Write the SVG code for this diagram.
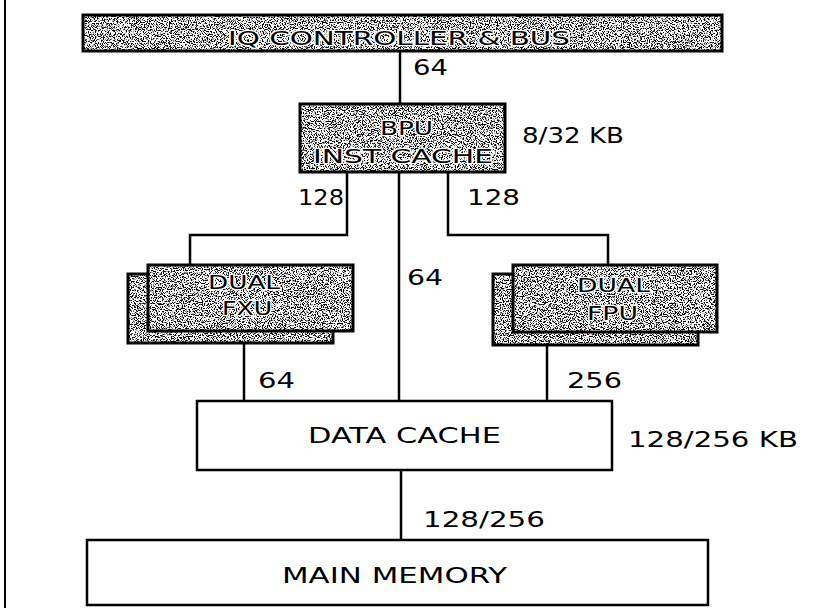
<svg xmlns="http://www.w3.org/2000/svg" width="836" height="608" viewBox="0 0 836 608">
<defs>
<filter id="noise" x="0" y="0" width="100%" height="100%" color-interpolation-filters="sRGB">
<feTurbulence type="fractalNoise" baseFrequency="0.85" numOctaves="2" seed="7" result="t"/>
<feColorMatrix in="t" type="matrix" values="0 0 0 0 0  0 0 0 0 0  0 0 0 0 0  -9 0 0 0 4.6" result="a"/>
<feComposite in="a" in2="SourceAlpha" operator="in"/>
</filter>
</defs>
<style>
.bg{fill:#fff}
.grain{fill:#000;filter:url(#noise)}
.edge{fill:none;stroke:#000;stroke-width:3}
.plain{stroke:#000;stroke-width:2.5;fill:#fff}
.wire{stroke:#000;stroke-width:2.5;fill:none}
.t{font-family:"DejaVu Sans","Liberation Sans",sans-serif;font-size:21px;fill:#000}
.in{font-size:20px;stroke:#fff;stroke-width:2.5;paint-order:stroke;stroke-linejoin:round}
</style>
<rect width="836" height="608" fill="#fff"/>
<line x1="5" y1="0" x2="5" y2="608" stroke="#000" stroke-width="2"/>
<g id="connectors">
<path class="wire" d="M400 52V104"/>
<path class="wire" d="M347 172V235H190V265"/>
<path class="wire" d="M448 172V235H608V265"/>
<path class="wire" d="M399 172V401"/>
<path class="wire" d="M244 343V401"/>
<path class="wire" d="M547 345V401"/>
<path class="wire" d="M401 470V540"/>
</g>
<g id="io">
<rect class="bg" x="83" y="15" width="639" height="36"/>
<rect class="grain" x="83" y="15" width="639" height="36"/>
<rect class="edge" x="83" y="15" width="639" height="36"/>
<text class="t in" x="228" y="45" textLength="342" lengthAdjust="spacingAndGlyphs">IQ CONTROLLER &amp; BUS</text>
</g>
<text class="t" x="413" y="75" textLength="35" lengthAdjust="spacingAndGlyphs">64</text>
<g id="bpu">
<rect class="bg" x="300" y="104" width="205" height="68"/>
<rect class="grain" x="300" y="104" width="205" height="68"/>
<rect class="edge" x="300" y="104" width="205" height="68"/>
<text class="t in" x="380" y="135" textLength="53" lengthAdjust="spacingAndGlyphs">BPU</text>
<text class="t in" x="313" y="163" textLength="180" lengthAdjust="spacingAndGlyphs">INST CACHE</text>
</g>
<text class="t" x="522" y="143" textLength="102" lengthAdjust="spacingAndGlyphs">8/32 KB</text>
<text class="t" x="298" y="205" textLength="46" lengthAdjust="spacingAndGlyphs">128</text>
<text class="t" x="467" y="205" textLength="53" lengthAdjust="spacingAndGlyphs">128</text>
<text class="t" x="407" y="285" textLength="36" lengthAdjust="spacingAndGlyphs">64</text>
<g id="fxu">
<rect class="bg" x="128" y="274" width="205" height="69"/>
<rect class="grain" x="128" y="274" width="205" height="69"/>
<rect class="edge" x="128" y="274" width="205" height="69"/>
<rect class="bg" x="148" y="265" width="205" height="66"/>
<rect class="grain" x="148" y="265" width="205" height="66"/>
<rect class="edge" x="148" y="265" width="205" height="66"/>
<text class="t in" x="208" y="289" textLength="72" lengthAdjust="spacingAndGlyphs">DUAL</text>
<text class="t in" x="222" y="315" textLength="50" lengthAdjust="spacingAndGlyphs">FXU</text>
</g>
<g id="fpu">
<rect class="bg" x="493" y="274" width="205" height="71"/>
<rect class="grain" x="493" y="274" width="205" height="71"/>
<rect class="edge" x="493" y="274" width="205" height="71"/>
<rect class="bg" x="513" y="265" width="204" height="67"/>
<rect class="grain" x="513" y="265" width="204" height="67"/>
<rect class="edge" x="513" y="265" width="204" height="67"/>
<text class="t in" x="577" y="292" textLength="73" lengthAdjust="spacingAndGlyphs">DUAL</text>
<text class="t in" x="587" y="320" textLength="51" lengthAdjust="spacingAndGlyphs">FPU</text>
</g>
<text class="t" x="258" y="388" textLength="37" lengthAdjust="spacingAndGlyphs">64</text>
<text class="t" x="567" y="388" textLength="55" lengthAdjust="spacingAndGlyphs">256</text>
<g id="dcache">
<rect class="plain" x="197" y="401" width="415" height="69"/>
<text class="t" x="308" y="443" textLength="193" lengthAdjust="spacingAndGlyphs">DATA CACHE</text>
</g>
<text class="t" x="628" y="447" textLength="170" lengthAdjust="spacingAndGlyphs">128/256 KB</text>
<text class="t" x="423" y="527" textLength="122" lengthAdjust="spacingAndGlyphs">128/256</text>
<g id="mainmem">
<rect class="plain" x="87" y="540" width="621" height="65"/>
<text class="t" x="282" y="583" textLength="225" lengthAdjust="spacingAndGlyphs">MAIN MEMORY</text>
</g>
</svg>
